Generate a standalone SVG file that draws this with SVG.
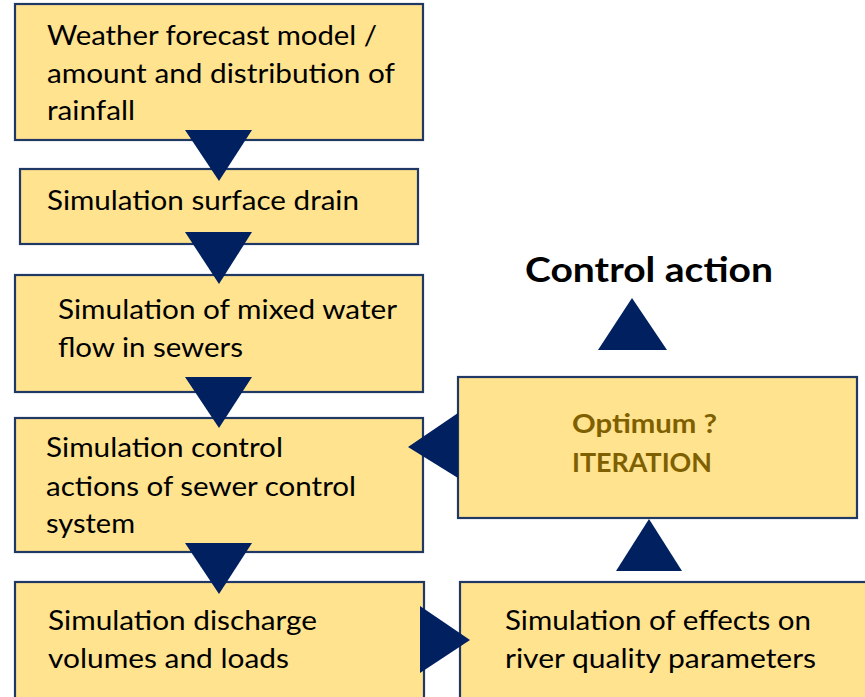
<svg xmlns="http://www.w3.org/2000/svg" width="865" height="697" viewBox="0 0 865 697">
<style>
.box{fill:#FFE38F;stroke:#1F3864;stroke-width:2.2}
.t{font-family:Lato,"Open Sans","Liberation Sans",sans-serif;font-size:27px;fill:#000}
.o{font-family:Lato,"Open Sans","Liberation Sans",sans-serif;font-size:27px;font-weight:bold;fill:#7F6000}
.h{font-family:Lato,"Open Sans","Liberation Sans",sans-serif;font-size:35px;font-weight:bold;fill:#000}
.arr{fill:#002060}
</style>
<rect width="865" height="697" fill="#fff"/>
<g id="n1"><rect class="box" x="15" y="4" width="408" height="136"/>
<text class="t" x="47" y="45" textLength="330" lengthAdjust="spacingAndGlyphs">Weather forecast model /</text>
<text class="t" x="47" y="83" textLength="348" lengthAdjust="spacingAndGlyphs">amount and distribution of</text>
<text class="t" x="47" y="120" textLength="88" lengthAdjust="spacingAndGlyphs">rainfall</text></g>
<g id="n2"><rect class="box" x="20" y="169" width="398" height="75"/>
<text class="t" x="47" y="210" textLength="312" lengthAdjust="spacingAndGlyphs">Simulation surface drain</text></g>
<g id="n3"><rect class="box" x="15" y="275" width="408" height="117"/>
<text class="t" x="58" y="319" textLength="339" lengthAdjust="spacingAndGlyphs">Simulation of mixed water</text>
<text class="t" x="58" y="357" textLength="185" lengthAdjust="spacingAndGlyphs">flow in sewers</text></g>
<g id="n4"><rect class="box" x="15" y="418" width="408" height="134"/>
<text class="t" x="46" y="457" textLength="237" lengthAdjust="spacingAndGlyphs">Simulation control</text>
<text class="t" x="46" y="496" textLength="310" lengthAdjust="spacingAndGlyphs">actions of sewer control</text>
<text class="t" x="46" y="533" textLength="89" lengthAdjust="spacingAndGlyphs">system</text></g>
<g id="n5"><rect class="box" x="15" y="582" width="409" height="130"/>
<text class="t" x="48" y="630" textLength="269" lengthAdjust="spacingAndGlyphs">Simulation discharge</text>
<text class="t" x="48" y="668" textLength="241" lengthAdjust="spacingAndGlyphs">volumes and loads</text></g>
<g id="n6"><rect class="box" x="460" y="582" width="420" height="130"/>
<text class="t" x="505" y="630" textLength="306" lengthAdjust="spacingAndGlyphs">Simulation of effects on</text>
<text class="t" x="505" y="668" textLength="311" lengthAdjust="spacingAndGlyphs">river quality parameters</text></g>
<g id="n7"><rect class="box" x="458" y="377" width="399" height="141"/>
<text class="o" x="572" y="433" textLength="145" lengthAdjust="spacingAndGlyphs">Optimum ?</text>
<text class="o" x="572" y="472" textLength="140" lengthAdjust="spacingAndGlyphs">ITERATION</text></g>
<g id="n8"><text class="h" x="525" y="282" textLength="248" lengthAdjust="spacingAndGlyphs">Control action</text></g>
<g id="connectors">
<polygon class="arr" points="185,130 252,130 219,181"/>
<polygon class="arr" points="185,232 252,232 219,284"/>
<polygon class="arr" points="185,377 252,377 219,428"/>
<polygon class="arr" points="185,543 252,543 219,594"/>
<polygon class="arr" points="420,606 420,673 470,640"/>
<polygon class="arr" points="616,571 682,571 649,519"/>
<polygon class="arr" points="458,413 458,478 408,447"/>
<polygon class="arr" points="598,350 667,350 632,298"/>
</g>
</svg>
